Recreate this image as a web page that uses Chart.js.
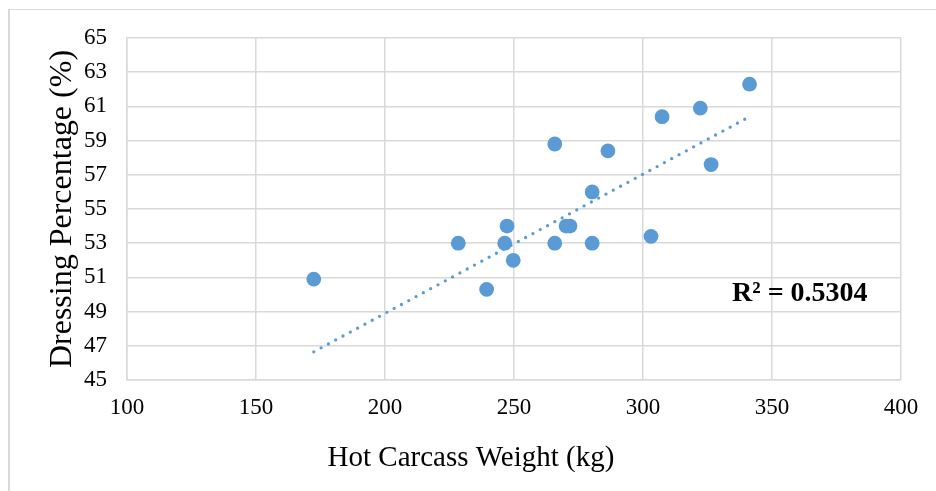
<!DOCTYPE html>
<html>
<head>
<meta charset="utf-8">
<script src="https://cdn.jsdelivr.net/npm/chart.js@4/dist/chart.umd.min.js"></script>
<style>
  html, body { margin: 0; padding: 0; background: #fff; overflow: hidden; }
  #wrap { position: relative; width: 936px; height: 491px; }
  #frame { position: absolute; left: 8px; top: 9px; width: 2000px; height: 2000px;
           border-left: 2px solid #d9d9d9; border-top: 1px solid #d9d9d9; box-sizing: border-box; }
  canvas { position: absolute; left: 0; top: 0; }
</style>
</head>
<body>
<div id="wrap">
  <div id="frame"></div>
  <canvas id="c" width="936" height="491"></canvas>
</div>
<script>
// Hot carcass weight (kg) and dressing percentage (%)
const hotCarcassWeight = [172.4, 228.4, 239.4, 246.4, 247.3, 249.7, 265.8, 265.8, 270.2, 271.7, 280.3, 280.3, 286.4, 303.1, 307.4, 322.2, 326.4, 341.3];
const dressingPct      = [50.9, 53.0, 50.3, 53.0, 54.0, 52.0, 58.8, 53.0, 54.0, 54.0, 56.0, 53.0, 58.4, 53.4, 60.4, 60.9, 57.6, 62.3];
// Linear trendline end points as drawn
const trendX = [172.4, 341.3];
const trendY = [46.65, 60.4];
// Axis ticks
const xTicks = [100, 150, 200, 250, 300, 350, 400];
const yTicks = [45, 47, 49, 51, 53, 55, 57, 59, 61, 63, 65];
const rSquaredText = 'R\u00B2 = 0.5304';
const xTitle = 'Hot Carcass Weight (kg)';
const yTitle = 'Dressing Percentage (%)';

const BLUE = '#5B9BD5';
const GRID = '#d9d9d9';
const FONT = '"Liberation Serif", "Times New Roman", serif';

const points = hotCarcassWeight.map((x, i) => ({ x: x, y: dressingPct[i] }));
const trend = trendX.map((x, i) => ({ x: x, y: trendY[i] }));

const overlay = {
  id: 'overlay',
  afterDraw(chart) {
    const ctx = chart.ctx;
    const xs = chart.scales.x, ys = chart.scales.y;
    ctx.save();
    // R squared label anchored in data space
    ctx.font = 'bold 28px ' + FONT;
    ctx.fillStyle = '#000';
    ctx.textAlign = 'left';
    ctx.textBaseline = 'middle';
    ctx.fillText(rSquaredText, xs.getPixelForValue(334.5), ys.getPixelForValue(50.05));
    // x axis title (centred on the whole chart, as in the original)
    ctx.font = '29px ' + FONT;
    ctx.textAlign = 'center';
    ctx.textBaseline = 'alphabetic';
    ctx.fillText(xTitle, chart.width / 2 + 3, 466);
    ctx.restore();
  }
};

new Chart(document.getElementById('c'), {
  type: 'scatter',
  data: {
    datasets: [
      {
        type: 'line',
        label: 'Trend',
        data: trend,
        borderColor: BLUE,
        borderWidth: 3.3,
        borderDash: [0, 8.3],
        borderCapStyle: 'round',
        pointRadius: 0,
        fill: false,
        tension: 0
      },
      {
        label: 'Dressing Percentage',
        data: points,
        backgroundColor: BLUE,
        borderColor: BLUE,
        borderWidth: 0,
        pointRadius: 7.4,
        pointHoverRadius: 7.4
      }
    ]
  },
  options: {
    responsive: false,
    animation: false,
    devicePixelRatio: 1,
    layout: { padding: { top: 38, right: 35, left: 0, bottom: 0 } },
    plugins: { legend: { display: false }, tooltip: { enabled: false } },
    scales: {
      x: {
        type: 'linear',
        min: 100, max: 400,
        afterBuildTicks: (s) => { s.ticks = xTicks.map(v => ({ value: v })); },
        afterFit: (s) => { s.height = 111; },
        grid: { color: GRID, lineWidth: 1.5, drawTicks: false },
        border: { color: GRID, width: 1.5 },
        ticks: { color: '#000', font: { family: FONT, size: 23 }, padding: 14, maxRotation: 0 },
        title: { display: false }
      },
      y: {
        type: 'linear',
        min: 45, max: 65,
        afterBuildTicks: (s) => { s.ticks = yTicks.map(v => ({ value: v })); },
        afterFit: (s) => { s.width = 127; },
        grid: { color: GRID, lineWidth: 1.5, drawTicks: false },
        border: { color: GRID, width: 1.5 },
        ticks: { color: '#000', font: { family: FONT, size: 23 }, padding: 20 },
        title: {
          display: true, text: yTitle, color: '#000',
          font: { family: FONT, size: 32, weight: 'normal' },
          padding: { top: 43, bottom: 0 }
        }
      }
    }
  },
  plugins: [overlay]
});
</script>
</body>
</html>
